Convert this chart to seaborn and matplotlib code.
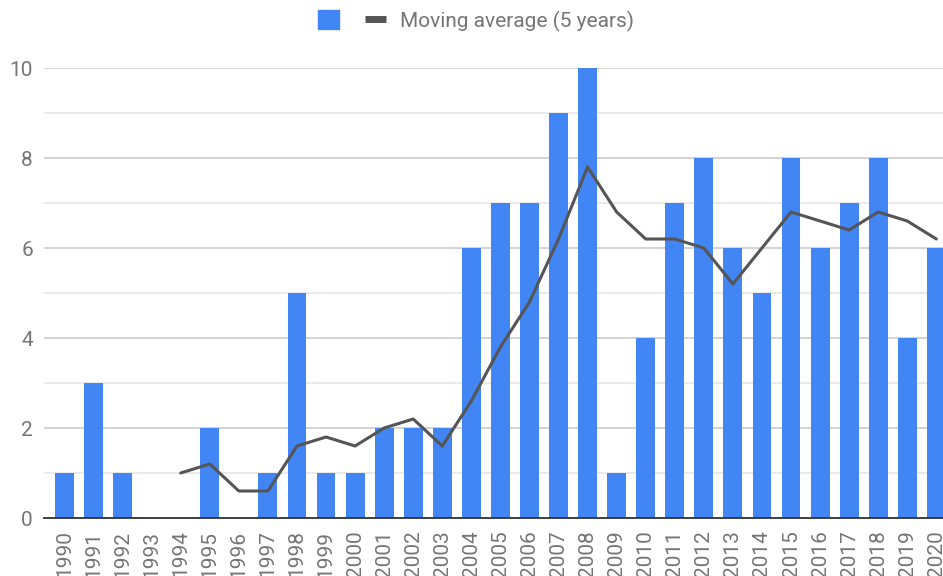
import matplotlib
matplotlib.use("Agg")
import matplotlib.pyplot as plt
import matplotlib.patches as mpatches
import matplotlib.lines as mlines
import seaborn as sns
import pandas as pd

# Data
years = [1990, 1991, 1992, 1993, 1994, 1995, 1996, 1997, 1998, 1999, 2000,
         2001, 2002, 2003, 2004, 2005, 2006, 2007, 2008, 2009, 2010,
         2011, 2012, 2013, 2014, 2015, 2016, 2017, 2018, 2019, 2020]
counts = [1, 3, 1, 0, 0, 2, 0, 1, 5, 1, 1,
          2, 2, 2, 6, 7, 7, 9, 10, 1, 4,
          7, 8, 6, 5, 8, 6, 7, 8, 4, 6]
ma_years = [1994, 1995, 1996, 1997, 1998, 1999, 2000, 2001, 2002, 2003, 2004,
            2005, 2006, 2007, 2008, 2009, 2010, 2011, 2012, 2013, 2014,
            2015, 2016, 2017, 2018, 2019, 2020]
ma_values = [1.0, 1.2, 0.6, 0.6, 1.6, 1.8, 1.6, 2.0, 2.2, 1.6, 2.6,
             3.8, 4.8, 6.2, 7.8, 6.8, 6.2, 6.2, 6.0, 5.2, 6.0,
             6.8, 6.6, 6.4, 6.8, 6.6, 6.2]
ma_label = "Moving average (5 years)"

bar_color = "#4285F4"
line_color = "#555555"
text_color = "#757575"

sns.set_style("white")
plt.rcParams["font.family"] = ["Roboto", "DejaVu Sans"]

df_bars = pd.DataFrame({"Year": years, "Count": counts})
df_ma = pd.DataFrame({"Year": ma_years, "MA": ma_values})

fig = plt.figure(figsize=(9.43, 5.76), dpi=100)
ax = fig.add_axes([44 / 943, 58 / 576, (943 - 44) / 943, 450 / 576])

sns.barplot(data=df_bars, x="Year", y="Count", native_scale=True,
            color=bar_color, saturation=1, width=0.65, linewidth=0,
            ax=ax, zorder=2)
sns.lineplot(data=df_ma, x="Year", y="MA", color=line_color, linewidth=2.2,
             ax=ax, zorder=3)

# Axes limits (right side runs off the figure like the reference)
ax.set_xlim(years[0] - 0.705, years[0] + 30.23)
ax.set_ylim(0, 10)

# Gridlines: darker at even values, lighter at odd values
ax.set_yticks([0, 2, 4, 6, 8, 10])
ax.set_yticks([1, 3, 5, 7, 9], minor=True)
ax.yaxis.grid(True, which="major", color="#cccccc", linewidth=1.2, zorder=0)
ax.yaxis.grid(True, which="minor", color="#e6e6e6", linewidth=1.2, zorder=0)
ax.set_axisbelow(True)

ax.set_xticks(years)
ax.set_xticklabels([str(y) for y in years], rotation=90)
ax.tick_params(axis="x", length=0, pad=9, labelsize=15, labelcolor=text_color)
ax.tick_params(axis="y", which="both", length=0, pad=8, labelsize=15,
               labelcolor=text_color)

for side in ["top", "right", "left"]:
    ax.spines[side].set_visible(False)
ax.spines["bottom"].set_color("#333333")
ax.spines["bottom"].set_linewidth(1.3)
ax.spines["bottom"].set_zorder(4)

ax.set_xlabel("")
ax.set_ylabel("")
if ax.get_legend() is not None:
    ax.get_legend().remove()

# Legend: unlabeled blue square and the moving-average line
bar_handle = mpatches.Patch(color=bar_color)
line_handle = mlines.Line2D([], [], color=line_color, linewidth=5,
                            solid_capstyle="butt")
fig.legend([bar_handle, line_handle], ["", ma_label],
           loc="center", bbox_to_anchor=(0.505, 1 - 21 / 576), ncol=2,
           frameon=False, fontsize=15, labelcolor=text_color,
           handlelength=1.0, handleheight=1.0, handletextpad=0.7,
           columnspacing=0.55, borderpad=0)

fig.savefig("out.png", dpi=100)
